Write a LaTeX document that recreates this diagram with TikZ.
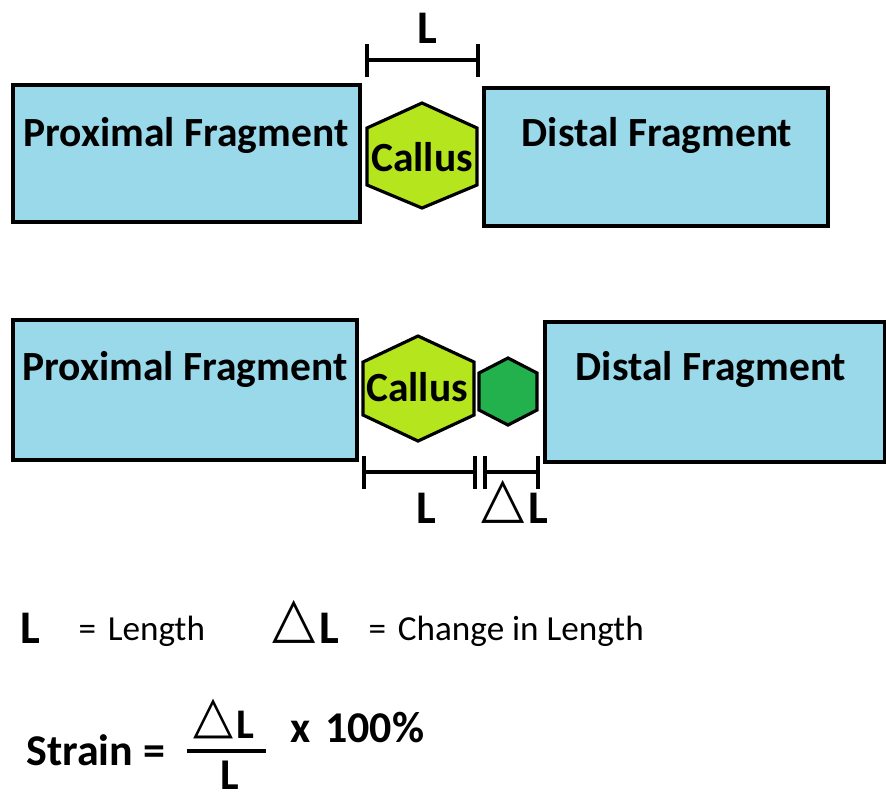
\documentclass[tikz,border=0pt]{standalone}
\usepackage{fontspec}
\setmainfont{Carlito}
\newfontfamily\symfont{DejaVu Sans}
\usetikzlibrary{arrows.meta}
\definecolor{bonefill}{HTML}{99D9EA}
\definecolor{callusfill}{HTML}{B5E61D}
\definecolor{gapfill}{HTML}{22B14C}
\newcommand{\dtri}[1]{{\symfont\fontsize{#1}{#1}\selectfont\raisebox{0.11em}{△}}\kern1pt}
\begin{document}
\begin{tikzpicture}[x=0.01cm,y=-0.01cm,line join=miter,
  bone/.style={draw=black,line width=1pt,fill=bonefill},
  hexcallus/.style={draw=black,line width=0.9pt,fill=callusfill},
  hexgap/.style={draw=black,line width=0.9pt,fill=gapfill},
  dimline/.style={line width=1.1pt,{Bar[width=3.3mm]}-{Bar[width=3.3mm]}},
  bigtext/.style={font=\fontsize{11.8}{13}\selectfont\bfseries},
  dimtext/.style={font=\fontsize{13.3}{15}\selectfont\bfseries,anchor=base,inner sep=0pt},
  legtext/.style={font=\fontsize{10}{12}\selectfont,anchor=base west,inner sep=0pt},
  eqtext/.style={font=\fontsize{12.5}{15}\selectfont\bfseries}]
  \useasboundingbox (0,0) rectangle (886,796);

  % top row: fragments with callus
  \draw[bone] (13,85) rectangle (360,222);
  \draw[bone] (484,88) rectangle (828,226);
  \draw[hexcallus] (422,103) -- (477,128) -- (477,185) -- (422,208) -- (367,185) -- (367,128) -- cycle;
  \node[bigtext] (proxA) at (186,135) {Proximal Fragment};
  \node[bigtext] (distA) at (657,135) {Distal Fragment};
  \node[bigtext] (callA) at (422,157) {Callus};

  \coordinate (topL) at (365,60);
  \coordinate (topR) at (480,60);
  \draw[dimline] (topL) -- (topR);
  \node[dimtext] (labA) at (427,43) {L};

  % bottom row: fragments pulled apart
  \draw[bone] (13,320) rectangle (357,460);
  \draw[bone] (545,322) rectangle (885,462);
  \draw[hexcallus] (418,336) -- (474,362) -- (474,415) -- (418,441) -- (363,415) -- (363,362) -- cycle;
  \draw[hexgap] (508,358) -- (537,373) -- (537,410) -- (508,425) -- (479,410) -- (479,373) -- cycle;
  \node[bigtext] (proxB) at (185,369) {Proximal Fragment};
  \node[bigtext] (distB) at (711,369) {Distal Fragment};
  \node[bigtext] (callB) at (417,387) {Callus};

  \coordinate (botA) at (362,472);
  \coordinate (botB) at (477,472);
  \coordinate (botC) at (483,472);
  \coordinate (botD) at (540,472);
  \draw[dimline] (botA) -- (botB);
  \draw[dimline] (botC) -- (botD);
  \node[dimtext] (labB) at (426,523) {L};
  \node[dimtext] (labC) at (515,523) {\dtri{16}L};

  % legend
  \node[dimtext] (legL) at (30,643) {L};
  \node[legtext] (legLtx) at (78,640) {=\,\,Length};
  \node[dimtext] (legD) at (306,643) {\dtri{16}L};
  \node[legtext] (legDtx) at (368,640) {=\,\,Change in Length};

  % strain formula
  \node[eqtext,anchor=west] (strain) at (14,750) {Strain =};
  \node[eqtext,anchor=base,inner sep=0pt] (num) at (224,738) {\dtri{14.8}{\fontsize{12}{13}\selectfont L}};
  \node[eqtext,anchor=base,inner sep=0pt] (den) at (230,789) {L};
  \draw[line width=1.1pt] (187,751) -- (266,751);
  \node[eqtext,anchor=west] (times) at (278,727) {x\,\,100\%};
\end{tikzpicture}
\end{document}
